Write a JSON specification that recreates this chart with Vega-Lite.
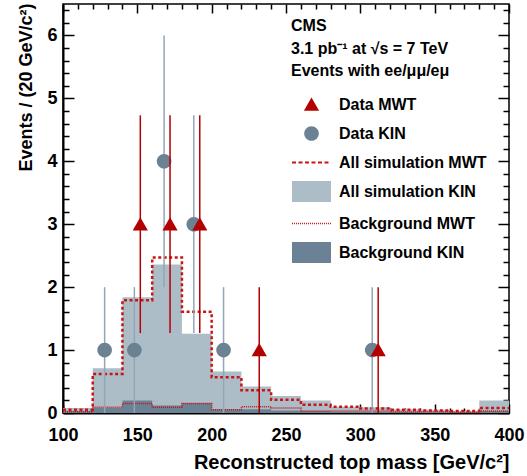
{
  "$schema": "https://vega.github.io/schema/vega-lite/v6.json",
  "width": 446,
  "height": 409,
  "autosize": {"type": "none"},
  "padding": {"left": 63, "top": 4, "right": 18, "bottom": 63},
  "background": "white",
  "config": {
    "view": {"stroke": "black", "strokeWidth": 1.5},
    "font": "Liberation Sans",
    "axis": {"labelFont": "Liberation Sans", "titleFont": "Liberation Sans", "labelFontWeight": "bold", "titleFontWeight": "bold", "labelColor": "black", "titleColor": "black", "tickColor": "black", "domainColor": "black", "grid": false, "labelOverlap": false, "labelFlush": false, "zindex": 1, "tickWidth": 1.5}
  },
  "datasets": {
    "kin": [
      {"lo": 100, "all": 0.08, "bkg": 0.03},
      {"lo": 120, "all": 0.71, "bkg": 0.08},
      {"lo": 140, "all": 1.84, "bkg": 0.20},
      {"lo": 160, "all": 2.36, "bkg": 0.12},
      {"lo": 180, "all": 1.26, "bkg": 0.16},
      {"lo": 200, "all": 0.66, "bkg": 0.06},
      {"lo": 220, "all": 0.42, "bkg": 0.06},
      {"lo": 240, "all": 0.27, "bkg": 0.04},
      {"lo": 260, "all": 0.20, "bkg": 0.03},
      {"lo": 280, "all": 0.10, "bkg": 0.02},
      {"lo": 300, "all": 0.09, "bkg": 0.02},
      {"lo": 320, "all": 0.06, "bkg": 0.02},
      {"lo": 340, "all": 0.05, "bkg": 0.01},
      {"lo": 360, "all": 0.03, "bkg": 0.01},
      {"lo": 380, "all": 0.20, "bkg": 0.03},
      {"lo": 400, "all": 0.20, "bkg": 0.03}
    ],
    "mwt": [
      {"lo": 100, "all": 0.05, "bkg": 0.02},
      {"lo": 120, "all": 0.62, "bkg": 0.09},
      {"lo": 140, "all": 1.79, "bkg": 0.15},
      {"lo": 160, "all": 2.47, "bkg": 0.09},
      {"lo": 180, "all": 1.61, "bkg": 0.15},
      {"lo": 200, "all": 0.57, "bkg": 0.05},
      {"lo": 220, "all": 0.36, "bkg": 0.10},
      {"lo": 240, "all": 0.21, "bkg": 0.08},
      {"lo": 260, "all": 0.13, "bkg": 0.03},
      {"lo": 280, "all": 0.10, "bkg": 0.03},
      {"lo": 300, "all": 0.07, "bkg": 0.03},
      {"lo": 320, "all": 0.05, "bkg": 0.02},
      {"lo": 340, "all": 0.04, "bkg": 0.02},
      {"lo": 360, "all": 0.03, "bkg": 0.01},
      {"lo": 380, "all": 0.08, "bkg": 0.03},
      {"lo": 400, "all": 0.08, "bkg": 0.03}
    ],
    "kinpts": [
      {"series": "Data KIN", "x": 128, "n": 1, "lo": 0, "hi": 2},
      {"series": "Data KIN", "x": 148, "n": 1, "lo": 0, "hi": 2},
      {"series": "Data KIN", "x": 168, "n": 4, "lo": 2, "hi": 6},
      {"series": "Data KIN", "x": 188, "n": 3, "lo": 1.27, "hi": 4.73},
      {"series": "Data KIN", "x": 208, "n": 1, "lo": 0, "hi": 2},
      {"series": "Data KIN", "x": 308, "n": 1, "lo": 0, "hi": 2}
    ],
    "mwtpts": [
      {"series": "Data MWT", "x": 152, "n": 3, "lo": 1.27, "hi": 4.73},
      {"series": "Data MWT", "x": 172, "n": 3, "lo": 1.27, "hi": 4.73},
      {"series": "Data MWT", "x": 192, "n": 3, "lo": 1.27, "hi": 4.73},
      {"series": "Data MWT", "x": 232, "n": 1, "lo": 0, "hi": 2},
      {"series": "Data MWT", "x": 312, "n": 1, "lo": 0, "hi": 2}
    ]
  },
  "layer": [
    {
      "data": {"name": "kin"},
      "mark": {"type": "area", "interpolate": "step-after", "color": "#adbdc8", "opacity": 1},
      "encoding": {
        "x": {"field": "lo", "type": "quantitative", "scale": {"domain": [100, 400], "nice": false, "zero": false},
          "axis": {"orient": "bottom", "values": [100, 150, 200, 250, 300, 350, 400], "format": "d",
            "ticks": false, "domainWidth": 2, "labelFontSize": 18, "labelPadding": 13,
            "title": "Reconstructed top mass [GeV/c²]", "titleFontSize": 20,
            "titleX": 446, "titleY": 55, "titleAlign": "right", "titleBaseline": "alphabetic", "titleAnchor": "end"}},
        "y": {"field": "all", "type": "quantitative", "scale": {"domain": [0, 6.5], "nice": false},
          "axis": {"orient": "left", "values": [0, 1, 2, 3, 4, 5, 6], "format": "d",
            "ticks": false, "domainWidth": 2, "labelFontSize": 18, "labelPadding": 6,
            "title": "Events / (20 GeV/c²)", "titleFontSize": 18,
            "titleX": -32, "titleY": -1, "titleAngle": -90, "titleAlign": "right", "titleBaseline": "alphabetic", "titleAnchor": "end"}}
      }
    },
    {
      "data": {"name": "kin"},
      "mark": {"type": "area", "interpolate": "step-after", "color": "#6b8195", "opacity": 1},
      "encoding": {
        "x": {"field": "lo", "type": "quantitative",
          "axis": {"orient": "bottom", "values": [100, 150, 200, 250, 300, 350, 400],
            "labels": false, "domain": false, "title": null, "tickSize": -9}},
        "y": {"field": "bkg", "type": "quantitative",
          "axis": {"orient": "left", "values": [0, 1, 2, 3, 4, 5, 6],
            "labels": false, "domain": false, "title": null, "tickSize": -11}}
      }
    },
    {
      "data": {"name": "mwt"},
      "mark": {"type": "line", "interpolate": "step-after", "color": "#c81414", "strokeWidth": 2.5, "strokeDash": [3, 2.5]},
      "encoding": {
        "x": {"field": "lo", "type": "quantitative",
          "axis": {"orient": "bottom", "values": [110,120,130,140,160,170,180,190,210,220,230,240,260,270,280,290,310,320,330,340,360,370,380,390],
            "labels": false, "domain": false, "title": null, "tickSize": -5}},
        "y": {"field": "all", "type": "quantitative",
          "axis": {"orient": "left", "values": [0.2,0.4,0.6,0.8,1.2,1.4,1.6,1.8,2.2,2.4,2.6,2.8,3.2,3.4,3.6,3.8,4.2,4.4,4.6,4.8,5.2,5.4,5.6,5.8,6.2,6.4],
            "labels": false, "domain": false, "title": null, "tickSize": -6}}
      }
    },
    {
      "data": {"name": "mwt"},
      "mark": {"type": "line", "interpolate": "step-after", "color": "#c81414", "strokeWidth": 1.5, "strokeDash": [1, 1]},
      "encoding": {
        "x": {"field": "lo", "type": "quantitative",
          "axis": {"orient": "top", "values": [100, 150, 200, 250, 300, 350, 400],
            "labels": false, "domain": false, "title": null, "tickSize": -9}},
        "y": {"field": "bkg", "type": "quantitative",
          "axis": {"orient": "right", "values": [0, 1, 2, 3, 4, 5, 6],
            "labels": false, "domain": false, "title": null, "tickSize": -11}}
      }
    },
    {
      "data": {"name": "kinpts"},
      "mark": {"type": "rule", "color": "#93a6b5", "strokeWidth": 1.5},
      "encoding": {
        "x": {"field": "x", "type": "quantitative",
          "axis": {"orient": "top", "values": [110,120,130,140,160,170,180,190,210,220,230,240,260,270,280,290,310,320,330,340,360,370,380,390],
            "labels": false, "domain": false, "title": null, "tickSize": -5}},
        "y": {"field": "lo", "type": "quantitative",
          "axis": {"orient": "right", "values": [0.2,0.4,0.6,0.8,1.2,1.4,1.6,1.8,2.2,2.4,2.6,2.8,3.2,3.4,3.6,3.8,4.2,4.4,4.6,4.8,5.2,5.4,5.6,5.8,6.2,6.4],
            "labels": false, "domain": false, "title": null, "tickSize": -6}},
        "y2": {"field": "hi"}
      }
    },
    {
      "data": {"name": "kinpts"},
      "mark": {"type": "point", "filled": true, "opacity": 1, "size": 1521},
      "encoding": {
        "x": {"field": "x", "type": "quantitative", "axis": null},
        "y": {"field": "n", "type": "quantitative", "axis": null},
        "color": {"field": "series", "type": "nominal",
          "scale": {"domain": ["Data MWT", "Data KIN", "All simulation MWT", "All simulation KIN", "Background MWT", "Background KIN"],
            "range": ["#b30000", "#6b8293", "#c81414", "#adbdc8", "#cc2222", "#6b8195"]},
          "legend": {"orient": "none", "legendX": 228, "legendY": 14, "padding": 0,
            "title": ["CMS", "3.1 pb⁻¹ at √s = 7 TeV", "Events with ee/μμ/eμ"],
            "titleFont": "Liberation Sans", "titleFontSize": 16, "titleFontWeight": "bold", "titleColor": "black", "titleLineHeight": 22.5, "titlePadding": 5,
            "labelFont": "Liberation Sans", "labelFontSize": 16, "labelFontWeight": "bold", "labelColor": "black", "labelOffset": 7, "labelLimit": 300,
            "symbolSize": 1521, "rowPadding": 0,
            "encode": {"symbols": {"update": {
              "shape": {"scale": "shape", "field": "value"},
              "fill": {"scale": "color", "field": "value"},
              "opacity": {"value": 1}
            }}}}},
        "shape": {"field": "series", "type": "nominal", "legend": null,
          "scale": {"domain": ["Data MWT", "Data KIN", "All simulation MWT", "All simulation KIN", "Background MWT", "Background KIN"],
            "range": [
              "M0,-0.36L0.39,0.32L-0.39,0.32Z",
              "M0.375,0A0.375,0.375,0,1,1,-0.375,0A0.375,0.375,0,1,1,0.375,0Z",
              "M-1,-0.052h0.205v0.104h-0.205Z M-0.667,-0.052h0.205v0.104h-0.205Z M-0.333,-0.052h0.205v0.104h-0.205Z M0,-0.052h0.205v0.104h-0.205Z M0.333,-0.052h0.205v0.104h-0.205Z M0.667,-0.052h0.205v0.104h-0.205Z",
              "M-1,-0.54H1V0.54H-1Z",
              "M-1,-0.035h0.055v0.07h-0.055Z M-0.897,-0.035h0.055v0.07h-0.055Z M-0.795,-0.035h0.055v0.07h-0.055Z M-0.692,-0.035h0.055v0.07h-0.055Z M-0.59,-0.035h0.055v0.07h-0.055Z M-0.487,-0.035h0.055v0.07h-0.055Z M-0.385,-0.035h0.055v0.07h-0.055Z M-0.282,-0.035h0.055v0.07h-0.055Z M-0.179,-0.035h0.055v0.07h-0.055Z M-0.077,-0.035h0.055v0.07h-0.055Z M0.026,-0.035h0.055v0.07h-0.055Z M0.128,-0.035h0.055v0.07h-0.055Z M0.231,-0.035h0.055v0.07h-0.055Z M0.333,-0.035h0.055v0.07h-0.055Z M0.436,-0.035h0.055v0.07h-0.055Z M0.538,-0.035h0.055v0.07h-0.055Z M0.641,-0.035h0.055v0.07h-0.055Z M0.744,-0.035h0.055v0.07h-0.055Z M0.846,-0.035h0.055v0.07h-0.055Z M0.949,-0.035h0.051v0.07h-0.051Z",
              "M-1,-0.54H1V0.54H-1Z"
            ]}}
      }
    },
    {
      "data": {"name": "mwtpts"},
      "mark": {"type": "rule", "color": "#b30000", "strokeWidth": 1.5},
      "encoding": {
        "x": {"field": "x", "type": "quantitative", "axis": null},
        "y": {"field": "lo", "type": "quantitative", "axis": null},
        "y2": {"field": "hi"}
      }
    },
    {
      "data": {"name": "mwtpts"},
      "mark": {"type": "point", "filled": true, "opacity": 1, "size": 1521},
      "encoding": {
        "x": {"field": "x", "type": "quantitative", "axis": null},
        "y": {"field": "n", "type": "quantitative", "axis": null},
        "color": {"field": "series", "type": "nominal"},
        "shape": {"field": "series", "type": "nominal", "legend": null}
      }
    }
  ],
  "resolve": {"axis": {"x": "independent", "y": "independent"}}
}
